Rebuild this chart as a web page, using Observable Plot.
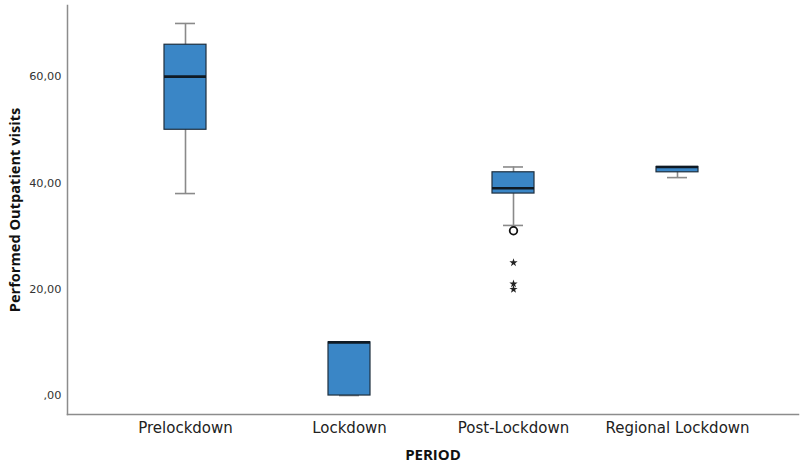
<!DOCTYPE html>
<html>
<head>
<meta charset="utf-8">
<script src="https://cdn.jsdelivr.net/npm/d3@7"></script>
<script src="https://cdn.jsdelivr.net/npm/@observablehq/plot@0.6"></script>
<style>
  html, body { margin: 0; padding: 0; background: #fff; }
  #chart svg { display: block; }
</style>
</head>
<body>
<div id="chart"></div>
<script>
const categories = ["Prelockdown", "Lockdown", "Post-Lockdown", "Regional Lockdown"];
const whiskerLow  = [38, 0, 32, 41];
const quartile1   = [50, 0, 38, 42];
const medians     = [60, 10, 39, 43];
const quartile3   = [66, 10, 42, 43];
const whiskerHigh = [70, 10, 43, 43];

const outlierCategory = ["Post-Lockdown", "Post-Lockdown", "Post-Lockdown", "Post-Lockdown"];
const outlierValue    = [31, 25, 21, 20];
const outlierKind     = ["circle", "star", "star", "star"];

const yTicks = [0, 20, 40, 60];
const yLabel = "Performed Outpatient visits";
const xLabel = "PERIOD";

const stats = categories.map((c, i) => ({
  period: c, lo: whiskerLow[i], q1: quartile1[i], med: medians[i], q3: quartile3[i], hi: whiskerHigh[i]
}));
const outliers = outlierValue.map((v, i) => ({period: outlierCategory[i], value: v, kind: outlierKind[i]}));

const fmt = d => d === 0 ? ",00" : d.toFixed(2).replace(".", ",");

const chart = Plot.plot({
  width: 800,
  height: 468,
  marginLeft: 67,
  marginRight: 2,
  marginTop: 5,
  marginBottom: 54,
  style: {fontFamily: "DejaVu Sans, sans-serif", background: "#fff"},
  x: {domain: categories, paddingInner: 0.744, paddingOuter: 0, insetLeft: 97, insetRight: 100},
  y: {domain: [-3.57, 73.38]},
  marks: [
    Plot.frame({anchor: "left", stroke: "#8c8c8c", strokeWidth: 1.5}),
    Plot.frame({anchor: "bottom", stroke: "#8c8c8c", strokeWidth: 1.5}),
    Plot.axisY({ticks: yTicks, tickFormat: fmt, tickSize: 0, tickPadding: 6, fontSize: 11.3, color: "#333", label: null}),
    Plot.axisX({tickSize: 0, tickPadding: 8, fontSize: 15, color: "#222", label: null}),
    Plot.text([yLabel], {frameAnchor: "left", textAnchor: "middle", rotate: -90, dx: -52, fontWeight: "bold", fontSize: 14.6, fontFamily: "Open Sans, sans-serif", fill: "#111"}),
    Plot.text([xLabel], {frameAnchor: "bottom", textAnchor: "middle", dy: 45, fontWeight: "bold", fontSize: 15, fontFamily: "Open Sans, sans-serif", fill: "#111"}),
    Plot.ruleX(stats, {x: "period", y1: "lo", y2: "hi", stroke: "#8a8a8a", strokeWidth: 1.6}),
    Plot.tickY(stats, {x: "period", y: "lo", stroke: "#8a8a8a", strokeWidth: 1.6, insetLeft: 11, insetRight: 11}),
    Plot.tickY(stats, {x: "period", y: "hi", stroke: "#8a8a8a", strokeWidth: 1.6, insetLeft: 11, insetRight: 11}),
    Plot.barY(stats, {x: "period", y1: "q1", y2: "q3", fill: "#3a86c6", stroke: "#1e2f3e", strokeWidth: 1.2}),
    Plot.tickY(stats, {x: "period", y: "med", stroke: "#0f1a24", strokeWidth: 2.6}),
    Plot.dot(outliers.filter(d => d.kind === "circle"), {x: "period", y: "value", r: 3.8, stroke: "#111", strokeWidth: 1.8, fill: "#fff"}),
    Plot.dot(outliers.filter(d => d.kind === "star"), {x: "period", y: "value", symbol: "star", r: 2.6, fill: "#222"})
  ]
});
document.getElementById("chart").appendChild(chart);
</script>
</body>
</html>
